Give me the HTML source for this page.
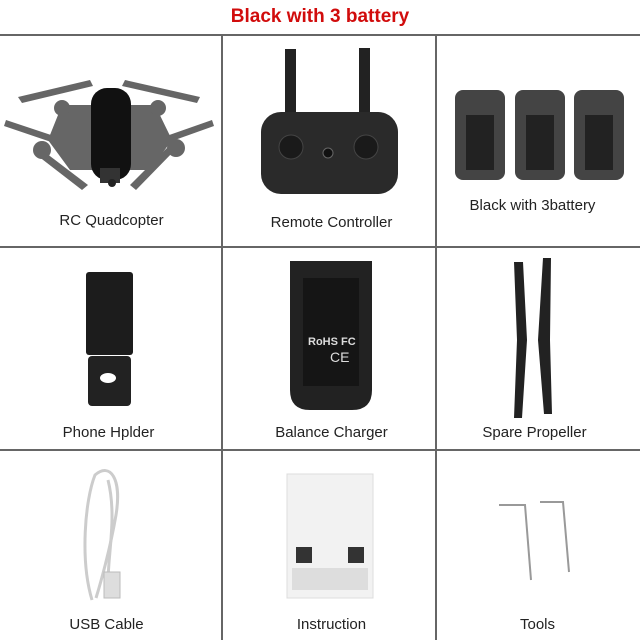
<!DOCTYPE html>
<html><head><meta charset="utf-8"><style>
body{margin:0;width:640px;height:640px;background:#fff;position:relative;overflow:hidden;font-family:"Liberation Sans",sans-serif}
.t{position:absolute;top:6px;left:0;width:640px;text-align:center;color:#d10c0c;font-weight:bold;font-size:19px}
.h,.v{position:absolute;background:#666}
.h{left:0;width:640px;height:2px}
.v{top:35px;height:605px;width:2px}
.l{position:absolute;font-size:15px;color:#222;text-align:center;width:213px}
svg{position:absolute;left:0;top:0}
</style></head><body>
<div class="t">Black with 3 battery</div>
<div class="h" style="top:34px"></div>
<div class="h" style="top:246px"></div>
<div class="h" style="top:449px"></div>
<div class="v" style="left:221px"></div>
<div class="v" style="left:435px"></div>
<svg width="640" height="640">
<!-- drone -->
<g fill="#666">
<polygon points="18,97 90,80 93,86 22,103"/><polygon points="125,80 200,97 197,103 122,86"/>
<polygon points="6,120 60,138 57,144 4,126"/><polygon points="155,140 212,120 214,126 158,146"/>
<polygon points="42,150 88,185 82,190 38,156"/><polygon points="175,150 136,190 130,185 170,145"/>
<polygon points="62,105 155,105 172,140 150,170 70,170 48,140"/>
<circle cx="62" cy="108" r="8"/><circle cx="158" cy="108" r="8"/><circle cx="42" cy="150" r="9"/><circle cx="176" cy="148" r="9"/>
</g>
<rect x="91" y="88" width="40" height="92" rx="16" fill="#111"/>
<rect x="100" y="168" width="20" height="15" fill="#333"/><circle cx="112" cy="183" r="4" fill="#222"/>
<!-- remote -->
<rect x="285" y="49" width="11" height="66" fill="#222"/><rect x="359" y="48" width="11" height="66" fill="#222"/>
<rect x="261" y="112" width="137" height="82" rx="20" fill="#2a2a2a"/>
<circle cx="291" cy="147" r="12" fill="#1a1a1a" stroke="#444"/><circle cx="366" cy="147" r="12" fill="#1a1a1a" stroke="#444"/>
<circle cx="328" cy="153" r="5" fill="#111" stroke="#666"/>
<!-- batteries -->
<g fill="#444"><rect x="455" y="90" width="50" height="90" rx="8"/><rect x="515" y="90" width="50" height="90" rx="8"/><rect x="574" y="90" width="50" height="90" rx="8"/></g>
<g fill="#222"><rect x="466" y="115" width="28" height="55"/><rect x="526" y="115" width="28" height="55"/><rect x="585" y="115" width="28" height="55"/></g>
<!-- phone holder -->
<rect x="86" y="272" width="47" height="83" rx="3" fill="#1c1c1c"/>
<rect x="88" y="356" width="43" height="50" rx="4" fill="#222"/><ellipse cx="108" cy="378" rx="8" ry="5" fill="#fff"/>
<!-- charger -->
<path d="M290 261 H372 V390 Q372 410 352 410 H310 Q290 410 290 390 Z" fill="#222"/>
<rect x="303" y="278" width="56" height="108" fill="#151515"/>
<text x="308" y="345" fill="#ddd" font-size="11" font-weight="bold">RoHS FC</text>
<text x="330" y="362" fill="#ddd" font-size="14">CE</text>
<!-- propellers -->
<path d="M514 262 L523 262 L527 340 L522 418 L514 418 L517 340 Z" fill="#222"/>
<path d="M543 258 L551 258 L550 340 L552 414 L544 414 L538 340 Z" fill="#222"/>
<!-- usb cable -->
<g fill="none" stroke="#ccc" stroke-width="3"><path d="M92 600 C80 560 85 500 95 475 C110 462 122 478 116 515 C110 550 100 585 96 598"/><path d="M108 595 C106 560 118 520 108 480"/></g>
<rect x="104" y="572" width="16" height="26" fill="#ddd" stroke="#bbb"/>
<!-- instruction -->
<rect x="287" y="474" width="86" height="124" fill="#f2f2f2" stroke="#ddd"/>
<g fill="#333"><rect x="296" y="547" width="16" height="16"/><rect x="348" y="547" width="16" height="16"/></g>
<rect x="292" y="568" width="76" height="22" fill="#ddd"/>
<!-- tools -->
<g fill="none" stroke="#999" stroke-width="2"><path d="M499 505 H525 L531 580"/><path d="M540 502 H563 L569 572"/></g>
</svg>
<div class="l" style="left:5px;top:212px">RC Quadcopter</div>
<div class="l" style="left:225px;top:214px">Remote Controller</div>
<div class="l" style="left:426px;top:197px">Black with 3battery</div>
<div class="l" style="left:2px;top:424px">Phone Hplder</div>
<div class="l" style="left:225px;top:424px">Balance Charger</div>
<div class="l" style="left:428px;top:424px">Spare Propeller</div>
<div class="l" style="left:0px;top:616px">USB Cable</div>
<div class="l" style="left:225px;top:616px">Instruction</div>
<div class="l" style="left:431px;top:616px">Tools</div>
</body></html>
